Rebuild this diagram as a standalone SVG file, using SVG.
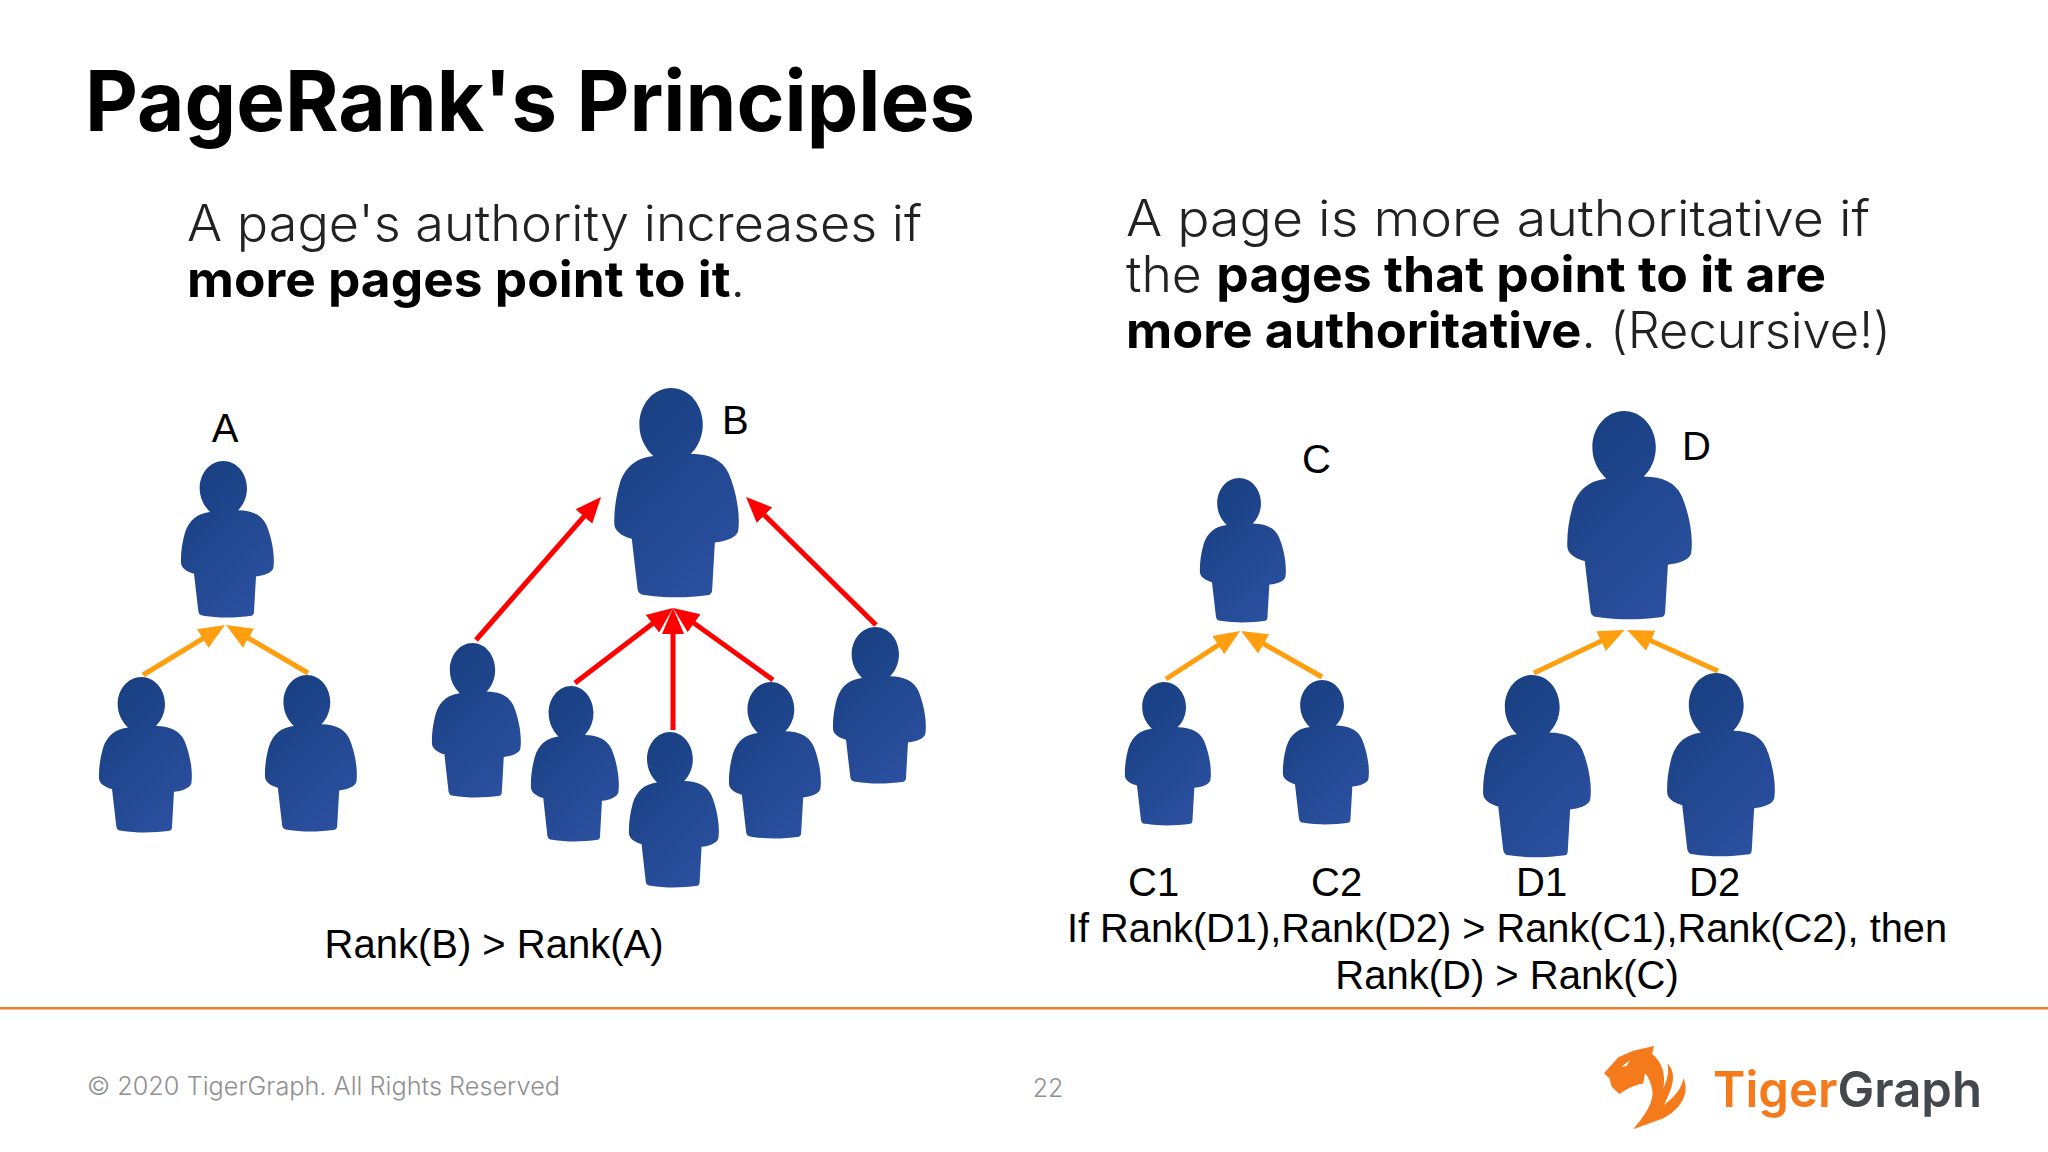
<svg xmlns="http://www.w3.org/2000/svg" width="2048" height="1152" viewBox="0 0 2048 1152">
<style>
.lab{font-family:"Liberation Sans",Arial,sans-serif;font-size:40px;fill:#000}
.h{font-family:Inter,Lato,sans-serif;font-size:50px;font-weight:300;fill:#222;font-variant-ligatures:none}
.b{font-weight:700;fill:#000}
.o{stroke:#ff9e0f;stroke-width:5;fill:none;marker-end:url(#ao)}
.r{stroke:#ff0000;stroke-width:5;fill:none;marker-end:url(#ar)}
.foot{font-family:Inter,Lato,sans-serif;font-size:25px;font-weight:300;fill:#909090}
</style>
<defs>
<linearGradient id="g" x1="0.15" y1="0" x2="0.75" y2="1"><stop offset="0" stop-color="#173f80"/><stop offset="1" stop-color="#2b50a0"/></linearGradient>
<marker id="ao" markerUnits="userSpaceOnUse" markerWidth="28" markerHeight="24" viewBox="0 0 28 24" refX="12" refY="12" orient="auto"><path d="M0 1L26 12L0 23Z" fill="#ff9e0f"/></marker>
<marker id="ar" markerUnits="userSpaceOnUse" markerWidth="28" markerHeight="24" viewBox="0 0 28 24" refX="12" refY="12" orient="auto"><path d="M0 1L26 12L0 23Z" fill="#ff0000"/></marker>
<symbol id="p" viewBox="300 243 282 472" preserveAspectRatio="none">
<path fill="url(#g)" d="M430 243C470 243 501 280 501 325C501 352 490 376 474 391C518 392 545 405 559 435C574 470 586 525 580 565C576 580 550 588 528 590L522 695Q522 706 515 708C470 714 420 716 370 708Q357 708 355 695L342 582L335 580C320 575 304 565 303 550C302 520 306 490 315 458C328 418 355 400 390 396C372 378 359 355 359 325C359 280 390 243 430 243Z"/>
</symbol>
</defs>
<rect width="2048" height="1152" fill="#fff"/>
<g id="title"><text x="85" y="131" font-family="Inter,Lato,sans-serif" font-size="84" font-weight="700" fill="#000" textLength="890" lengthAdjust="spacingAndGlyphs" style="font-variant-ligatures:none">PageRank's Principles</text></g>
<g id="text-left">
<text class="h" x="187" y="241" textLength="735" lengthAdjust="spacingAndGlyphs">A page's authority increases if</text>
<text class="h b" x="187" y="297" textLength="558" lengthAdjust="spacingAndGlyphs">more pages point to it<tspan font-weight="300" fill="#222">.</tspan></text>
</g>
<g id="text-right">
<text class="h" x="1126" y="236" textLength="744" lengthAdjust="spacingAndGlyphs">A page is more authoritative if</text>
<text class="h" x="1126" y="292" textLength="700" lengthAdjust="spacingAndGlyphs">the <tspan class="b">pages that point to it are</tspan></text>
<text class="h" x="1126" y="348" textLength="765" lengthAdjust="spacingAndGlyphs"><tspan class="b">more authoritative</tspan>. (Recursive!)</text>
</g>
<g id="nodes">
<g id="node-a"><use href="#p" x="180" y="461" width="94" height="157"/><text class="lab" x="225" y="442" text-anchor="middle">A</text></g>
<g id="node-a1"><use href="#p" x="98" y="677" width="94" height="156"/></g>
<g id="node-a2"><use href="#p" x="264" y="675" width="93" height="157"/></g>
<g id="node-b"><use href="#p" x="613" y="388" width="126" height="210"/><text class="lab" x="722" y="434">B</text></g>
<g id="node-b1"><use href="#p" x="431" y="643" width="90" height="155"/></g>
<g id="node-b2"><use href="#p" x="530" y="686" width="89" height="156"/></g>
<g id="node-b3"><use href="#p" x="628" y="732" width="91" height="156"/></g>
<g id="node-b4"><use href="#p" x="728" y="682" width="93" height="157"/></g>
<g id="node-b5"><use href="#p" x="832" y="627" width="94" height="157"/></g>
<g id="node-c"><use href="#p" x="1199" y="478" width="87" height="145"/><text class="lab" x="1302" y="473">C</text></g>
<g id="node-c1"><use href="#p" x="1124" y="682" width="87" height="144"/><text class="lab" x="1128" y="896">C1</text></g>
<g id="node-c2"><use href="#p" x="1282" y="680" width="87" height="145"/><text class="lab" x="1311" y="896">C2</text></g>
<g id="node-d"><use href="#p" x="1566" y="411" width="126" height="209"/><text class="lab" x="1682" y="460">D</text></g>
<g id="node-d1"><use href="#p" x="1482" y="675" width="109" height="183"/><text class="lab" x="1516" y="896">D1</text></g>
<g id="node-d2"><use href="#p" x="1666" y="673" width="109" height="184"/><text class="lab" x="1689" y="896">D2</text></g>
</g>
<g id="connectors">
<line class="o" x1="143" y1="675" x2="213" y2="632.3"/>
<line class="o" x1="308" y1="673" x2="238.1" y2="632.1"/>
<line class="r" x1="476" y1="640" x2="591.8" y2="507.5"/>
<line class="r" x1="876" y1="625" x2="756" y2="506.8"/>
<line class="r" x1="575" y1="683" x2="661.9" y2="616.5"/>
<line class="r" x1="673" y1="730" x2="673" y2="622"/>
<line class="r" x1="773" y1="680" x2="684.4" y2="616.2"/>
<line class="o" x1="1166" y1="679" x2="1228.3" y2="638.6"/>
<line class="o" x1="1322" y1="677" x2="1253.2" y2="637.9"/>
<line class="o" x1="1534" y1="673" x2="1611.9" y2="636"/>
<line class="o" x1="1718" y1="671" x2="1639.8" y2="635.8"/>
</g>
<g id="captions">
<text class="lab" x="494" y="958" text-anchor="middle">Rank(B) &gt; Rank(A)</text>
<text class="lab" x="1067" y="942" textLength="880" lengthAdjust="spacingAndGlyphs">If Rank(D1),Rank(D2) &gt; Rank(C1),Rank(C2), then</text>
<text class="lab" x="1507" y="989" text-anchor="middle">Rank(D) &gt; Rank(C)</text>
</g>
<rect id="rule" x="0" y="1007" width="2048" height="2.5" fill="#ed7d31"/>
<g id="footer">
<text class="foot" x="87" y="1095" textLength="473" lengthAdjust="spacingAndGlyphs">© 2020 TigerGraph. All Rights Reserved</text>
<text class="foot" x="1048" y="1097" text-anchor="middle">22</text>
</g>
<g id="logo">
<g transform="translate(1580 1030) scale(.3333)">
<path fill="#f47a1c" d="M72 130L115 82L160 62L222 48L216 72C245 95 258 130 250 175C262 150 268 125 262 100C285 125 288 155 252 225C285 200 305 175 310 145C332 190 300 240 250 265L160 298C190 260 215 230 218 190C216 165 205 140 195 130L190 160C170 165 150 170 118 192L95 170L88 145Z"/>
<path fill="#fff" d="M125 110L150 90L140 108Z"/>
</g>
<text x="1713" y="1107" font-family="Inter,Lato,sans-serif" font-size="50" font-weight="600" fill="#f47a1c" textLength="269" lengthAdjust="spacingAndGlyphs">Tiger<tspan fill="#44474c">Graph</tspan></text>
</g>
</svg>
